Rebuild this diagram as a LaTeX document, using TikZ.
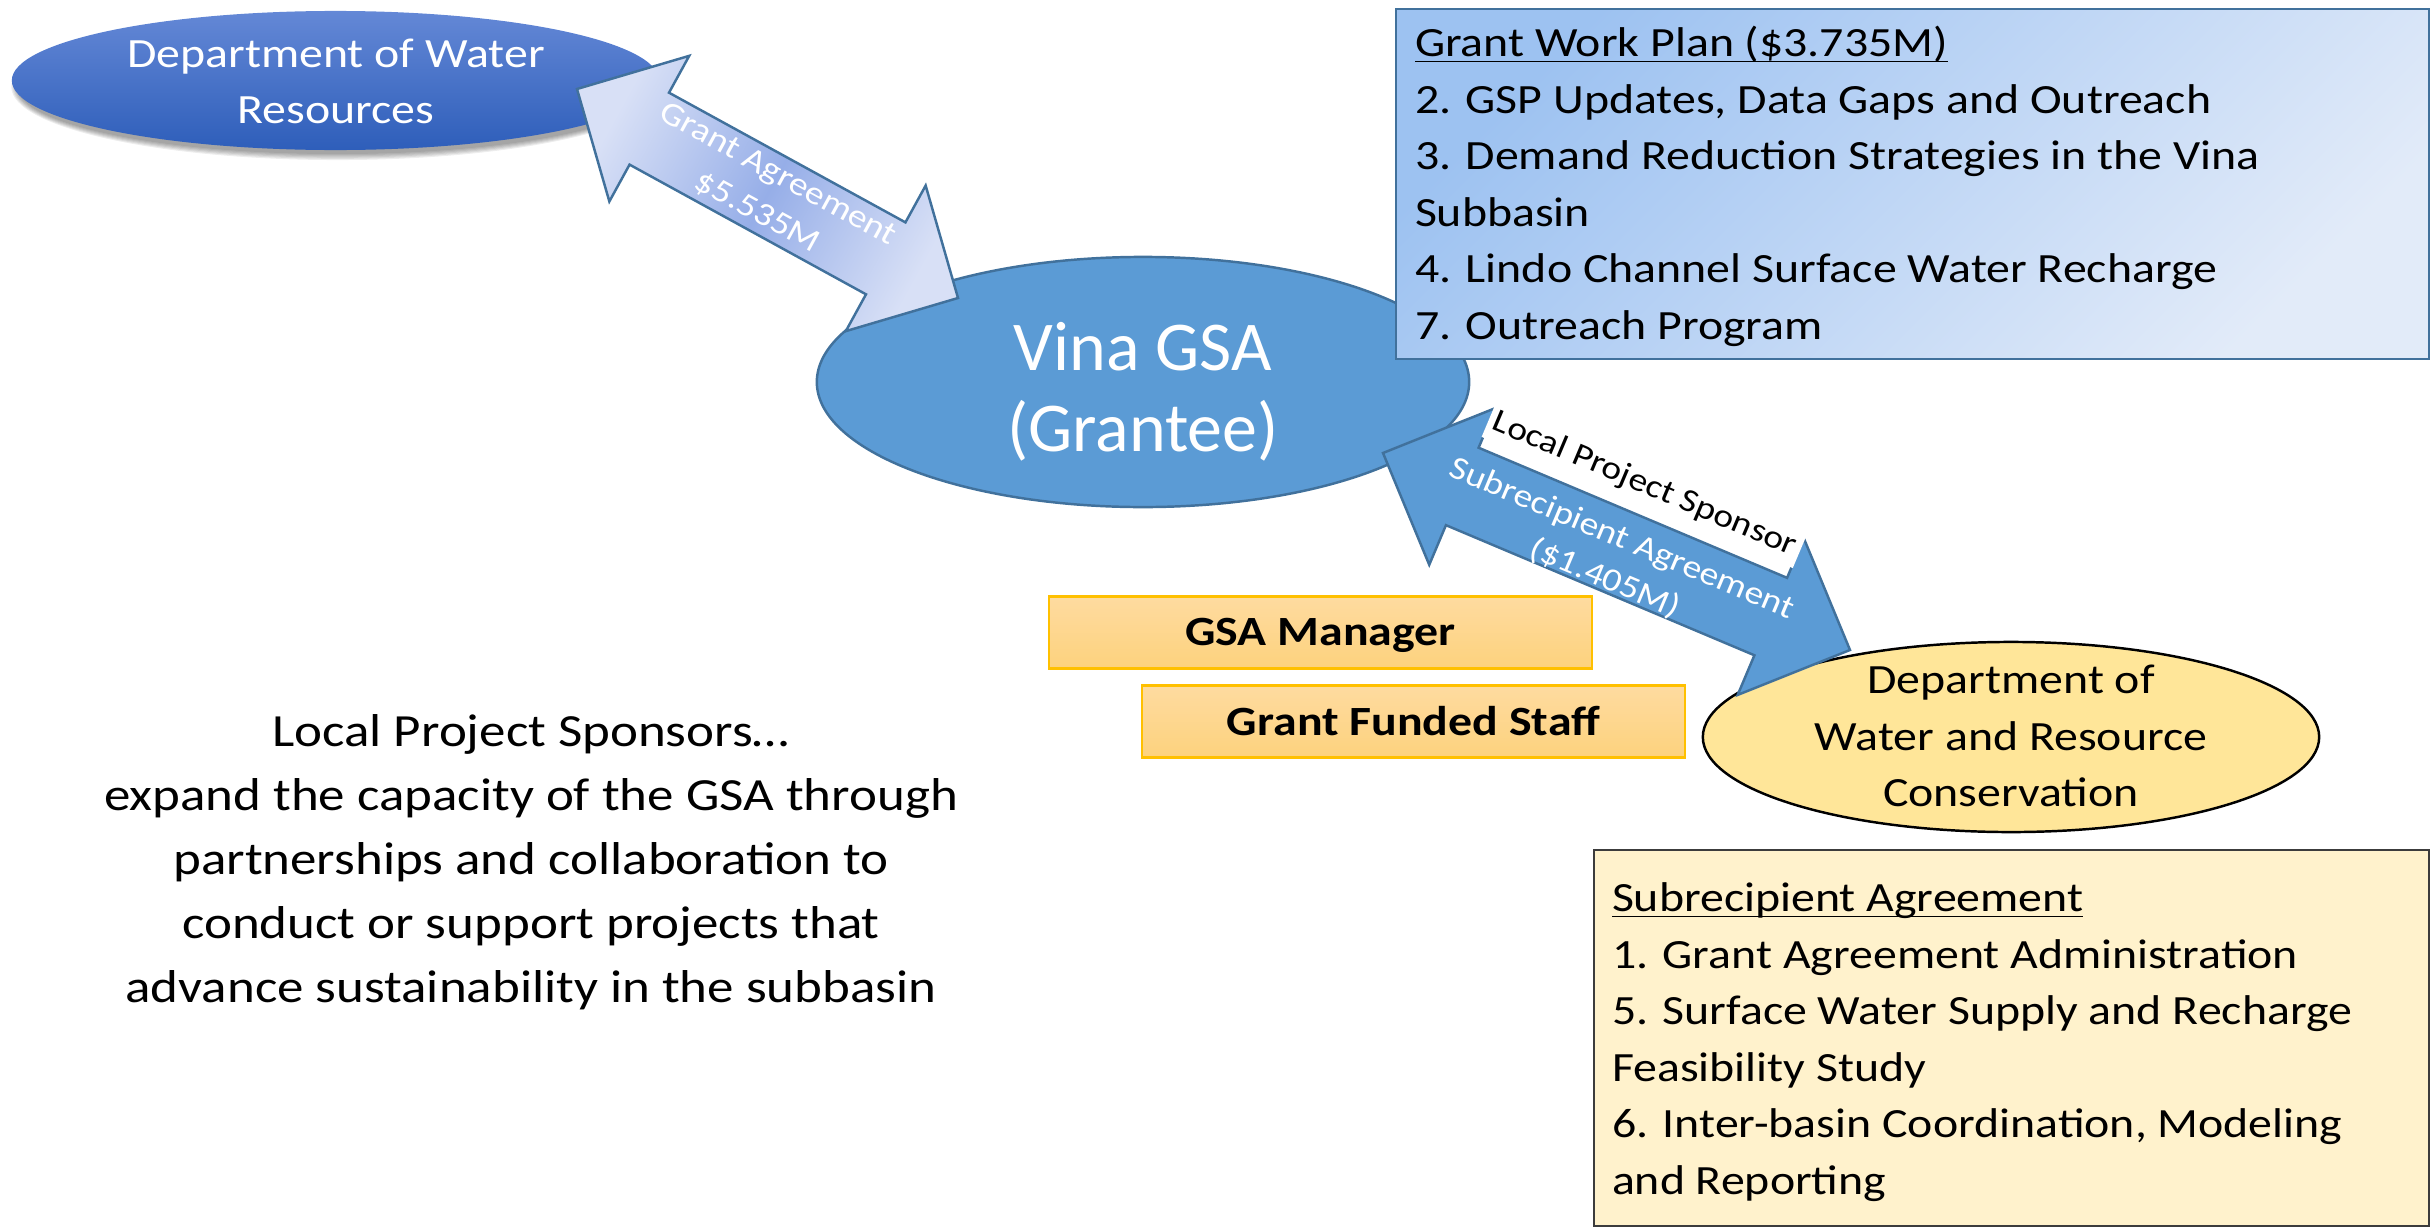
\documentclass[tikz,border=0pt]{standalone}
\usepackage{fontspec}
\setmainfont{Carlito}[FakeStretch=1.15]
\newfontfamily\vinafont{Carlito}
\usetikzlibrary{shapes.geometric,calc}
\definecolor{dwrtop}{RGB}{100,136,214}
\definecolor{dwrbot}{RGB}{46,94,186}
\definecolor{gsablue}{RGB}{91,155,213}
\definecolor{gsaline}{RGB}{65,113,156}
\definecolor{galight}{RGB}{216,224,246}
\definecolor{gadark}{RGB}{150,174,232}
\definecolor{wptl}{RGB}{157,194,241}
\definecolor{wpbr}{RGB}{226,235,249}
\definecolor{wpline}{RGB}{65,113,156}
\definecolor{subfill}{RGB}{255,242,204}
\definecolor{subline}{RGB}{60,60,60}
\definecolor{dwrcfill}{RGB}{255,230,153}
\definecolor{stafftop}{RGB}{254,219,160}
\definecolor{staffbot}{RGB}{253,210,125}
\definecolor{staffline}{RGB}{255,192,0}
\newcommand\myul[1]{\setbox0=\hbox{#1}\rlap{\rule[-1.7pt]{\wd0}{0.55pt}}\box0}
\newcommand\mainsz{\fontsize{11.83pt}{16.1pt}\selectfont}
\newcommand\parsz{\fontsize{13.1pt}{18.2pt}\selectfont}
\newcommand\lblsz{\fontsize{9.3pt}{12.3pt}\selectfont}
\newcommand\vinasz{\vinafont\fontsize{19.9pt}{23.2pt}\selectfont}
\begin{document}
\begin{tikzpicture}[x=0.01cm, y=-0.01cm,
  ell/.style={ellipse, inner sep=0pt, outer sep=0pt},
  txt/.style={inner sep=0pt, outer sep=0pt},
  staffbox/.style={draw=staffline, line width=0.6pt, top color=stafftop, bottom color=staffbot,
    minimum width=5.43cm, minimum height=0.72cm, inner sep=0pt},
  blockline/.style={draw=gsaline, line width=0.7pt, line join=miter},
  softshadow/.style={fill=black, opacity=0.07},
]
\useasboundingbox (0,0) rectangle (2430,1227);

% soft shadow below the Department of Water Resources ellipse
\foreach \k in {0,...,5}
  \fill[softshadow] (337.5,87) ellipse [x radius={3.2cm+\k*0.012cm}, y radius={0.67cm+\k*0.012cm}];

% Department of Water Resources
\node[ell, top color=dwrtop, bottom color=dwrbot,
  minimum width=6.47cm, minimum height=1.39cm] (dwr) at (335.5,80.5) {};
\node[txt, anchor=north, align=center, text=white, font=\mainsz] (dwrtxt) at (336,25)
  {\rule{0pt}{12pt}Department of Water\\Resources};

% Vina GSA
\node[ell, fill=gsablue, draw=gsaline, line width=0.7pt,
  minimum width=6.52cm, minimum height=2.5cm] (vina) at (1143,382) {};
\node[txt, anchor=north, align=center, text=white, font=\vinasz] (vinatxt) at (1143,306.7)
  {\rule{0pt}{18pt}Vina GSA\\(Grantee)};

% Grant work plan box
\node[draw=wpline, line width=0.6pt, top color=wptl, bottom color=wpbr, shading angle=45,
  anchor=north west, minimum width=10.32cm, minimum height=3.50cm, inner sep=0pt] (wp) at (1395,8) {};
\node[txt, anchor=north west, align=left, font=\mainsz] (wptxt) at (1415,14.3)
  {\rule{0pt}{12pt}\myul{Grant Work Plan (\$3.735M)}\\
   2. GSP Updates, Data Gaps and Outreach\\
   3. Demand Reduction Strategies in the Vina\\
   Subbasin\\
   4. Lindo Channel Surface Water Recharge\\
   7. Outreach Program};

% Subrecipient agreement box
\node[draw=subline, line width=0.7pt, fill=subfill, anchor=north west,
  minimum width=8.34cm, minimum height=3.755cm, inner sep=0pt] (sub) at (1593,849) {};
\node[txt, anchor=north west, align=left, font=\mainsz] (subtxt) at (1612,869.3)
  {\rule{0pt}{12pt}\myul{Subrecipient Agreement}\\
   1. Grant Agreement Administration\\
   5. Surface Water Supply and Recharge\\
   Feasibility Study\\
   6. Inter-basin Coordination, Modeling\\
   and Reporting};

% Department of Water and Resource Conservation
\node[ell, fill=dwrcfill, draw=black, line width=0.7pt,
  minimum width=6.16cm, minimum height=1.90cm] (dwrc) at (2011,737) {};
\node[txt, anchor=north, align=center, font=\mainsz] (dwrctxt) at (2011,651.3)
  {\rule{0pt}{12pt}Department of\\Water and Resource\\Conservation};

% Staff boxes
\node[staffbox] (mgr) at (1320.5,632.5) {};
\node[txt, anchor=base, font=\mainsz\bfseries] (mgrtxt) at (1320.5,645) {GSA Manager};
\node[staffbox] (gfs) at (1413.5,721.5) {};
\node[txt, anchor=base, font=\mainsz\bfseries] (gfstxt) at (1413.5,735) {Grant Funded Staff};

% Left paragraph
\node[txt, anchor=north, align=center, font=\parsz] (lps) at (531,700.3)
  {\rule{0pt}{13pt}Local Project Sponsors…\\
   expand the capacity of the GSA through\\
   partnerships and collaboration to\\
   conduct or support projects that\\
   advance sustainability in the subbasin};

% Grant agreement block arrow
\coordinate (ga1) at (577,89);
\coordinate (ga2) at (958,298);
\coordinate (gb1) at ($(ga1)!0.824cm!(ga2)$);
\coordinate (gb2) at ($(ga2)!0.824cm!(ga1)$);
\draw[blockline, top color=galight, bottom color=galight, middle color=gadark, shading angle=61.3]
  (ga1) -- ($(gb1)!0.83cm!90:(ga2)$) -- ($(gb1)!0.41cm!90:(ga2)$)
  -- ($(gb2)!0.41cm!-90:(ga1)$) -- ($(gb2)!0.83cm!-90:(ga1)$) -- (ga2)
  -- ($(gb2)!0.83cm!90:(ga1)$) -- ($(gb2)!0.41cm!90:(ga1)$)
  -- ($(gb1)!0.41cm!-90:(ga2)$) -- ($(gb1)!0.83cm!-90:(ga2)$) -- cycle;
\node[txt, rotate=-28.74, align=center, text=white, font=\lblsz] (galbl)
  at ($(ga1)!0.5!(ga2)$) {Grant Agreement\\\$5.535M};

% Subrecipient agreement block arrow
\coordinate (sa1) at (1383,453);
\coordinate (sa2) at (1850,650);
\coordinate (sb1) at ($(sa1)!0.86cm!(sa2)$);
\coordinate (sb2) at ($(sa2)!0.86cm!(sa1)$);
\draw[blockline, fill=gsablue]
  (sa1) -- ($(sb1)!0.85cm!90:(sa2)$) -- ($(sb1)!0.42cm!90:(sa2)$)
  -- ($(sb2)!0.42cm!-90:(sa1)$) -- ($(sb2)!0.85cm!-90:(sa1)$) -- (sa2)
  -- ($(sb2)!0.85cm!90:(sa1)$) -- ($(sb2)!0.42cm!90:(sa1)$)
  -- ($(sb1)!0.42cm!-90:(sa2)$) -- ($(sb1)!0.85cm!-90:(sa2)$) -- cycle;
\node[txt, rotate=-22.87, align=center, text=white, font=\lblsz] (salbl)
  at ($(sa1)!0.5!(sa2)!0.08cm!-90:(sa2)$) {Subrecipient Agreement\\(\$1.405M)};
\node[txt, rotate=-22.87, fill=white, inner sep=1.5pt, font=\lblsz] (lpslbl)
  at ($(sa1)!0.5!(sa2)!0.726cm!90:(sa2)$) {Local Project Sponsor};
\end{tikzpicture}
\end{document}
